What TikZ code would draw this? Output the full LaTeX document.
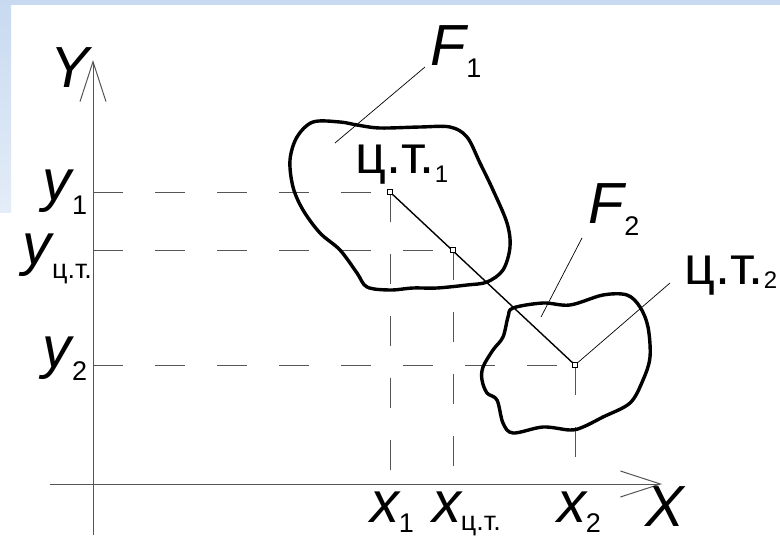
\documentclass[tikz,border=0pt]{standalone}
\usepackage{fontspec}
\setmainfont{Liberation Sans}
\usetikzlibrary{arrows.meta,positioning}

\definecolor{bgblue}{HTML}{C8DAF0}
\definecolor{axisgray}{HTML}{555555}
\newcommand{\ilbl}[3][12pt]{\textit{#2}\kern-2pt\raisebox{-#1}{\fontsize{27}{27}\selectfont #3}}

\begin{document}
\begin{tikzpicture}[x=1pt,y=-1pt,
  axis/.style={axisgray,line width=1pt,-{Straight Barb[length=40pt,width=26pt,line width=1pt]}},
  guide/.style={axisgray,line width=0.9pt,dash pattern=on 30pt off 32pt},
  blob/.style={black,line width=3.4pt,line join=round},
  leader/.style={black,line width=0.7pt},
  lbl/.style={inner sep=0pt,anchor=base west,font=\fontsize{58}{58}\selectfont},
  cgpoint/.style={draw,fill=white,line width=0.9pt,minimum size=5pt,inner sep=0pt}]
  \useasboundingbox (0,0) rectangle (780,539);
  \fill[white] (0,0) rectangle (780,539);
  \shade[top color=bgblue,bottom color=bgblue!50] (0,0) rectangle (11,212);
  \fill[bgblue] (0,0) rectangle (780,5);

  \coordinate (O) at (93,484);
  \coordinate (ytop) at (93,60);
  \coordinate (ybot) at (93,535);
  \coordinate (xleft) at (50,484);
  \coordinate (xright) at (662,484);
  \draw[axis] (ybot) -- (ytop);
  \draw[axis] (xleft) -- (xright);

  \coordinate (c1) at (390,192);
  \coordinate (c) at (453,250);
  \coordinate (c2) at (575,365);
  \foreach \p in {c1,c,c2} {
    \draw[guide] (O |- \p) -- (\p);
    \draw[guide] (\p) -- (\p |- O);
  }

  \draw[blob] plot[smooth cycle,tension=0.55] coordinates {
    (313,122) (340,122) (357,125) (380,128) (420,127) (450,127) (467,137)
    (480,163) (493,190) (507,223) (510,247) (503,270) (487,282) (467,285)
    (437,288) (413,288) (390,290) (367,287) (357,273) (340,250) (320,233)
    (303,210) (293,187) (290,160) (297,137)};
  \draw[blob] plot[smooth cycle,tension=0.55] coordinates {
    (513,308) (543,303) (570,305) (603,295) (627,295) (640,307) (648,327)
    (650,357) (643,380) (630,403) (603,417) (583,427) (570,430) (543,427)
    (513,433) (503,423) (497,400) (487,393) (482,380) (483,367) (493,350)
    (503,337) (508,317)};

  \draw[black,line width=1.4pt] (c1) -- (c2);
  \foreach \p in {c1,c,c2}
    \node[cgpoint] (m\p) at (\p) {};

  \coordinate (f1in) at (335,143);
  \coordinate (f1out) at (425,67);
  \coordinate (f2in) at (541,317);
  \coordinate (f2out) at (582,238);
  \coordinate (c2out) at (670,283);
  \draw[leader] (f1in) -- (f1out);
  \draw[leader] (f2in) -- (f2out);
  \draw[leader] (mc2) -- (c2out);

  \node[lbl] (Ylbl) at (50,87) {\textit{Y}};
  \node[lbl] (Xlbl) at (645,526) {\textit{X}};
  \node[lbl] (F1lbl) at (430,65) {\ilbl{F}{1}};
  \node[lbl] (F2lbl) at (588,223) {\ilbl{F}{2}};
  \node[lbl,font=\fontsize{54}{54}\selectfont] (c1lbl) at (355,173)
    {ц.т.\raisebox{-9pt}{\fontsize{24}{24}\selectfont 1}};
  \node[lbl,font=\fontsize{54}{54}\selectfont] (c2lbl) at (684,284)
    {ц.т.\raisebox{-4pt}{\fontsize{24}{24}\selectfont 2}};
  \node[lbl] (y1lbl) at (42,200) {\ilbl[14pt]{y}{1}};
  \node[lbl] (yclbl) at (22,264) {\ilbl[14pt]{y}{ц.т.}};
  \node[lbl] (y2lbl) at (42,367) {\ilbl[13pt]{y}{2}};
  \node[lbl] (x1lbl) at (370,522) {\ilbl[10pt]{x}{1}};
  \node[lbl] (xclbl) at (432,522) {\ilbl[8pt]{x}{ц.т.}};
  \node[lbl] (x2lbl) at (557,522) {\ilbl[10pt]{x}{2}};
\end{tikzpicture}
\end{document}
